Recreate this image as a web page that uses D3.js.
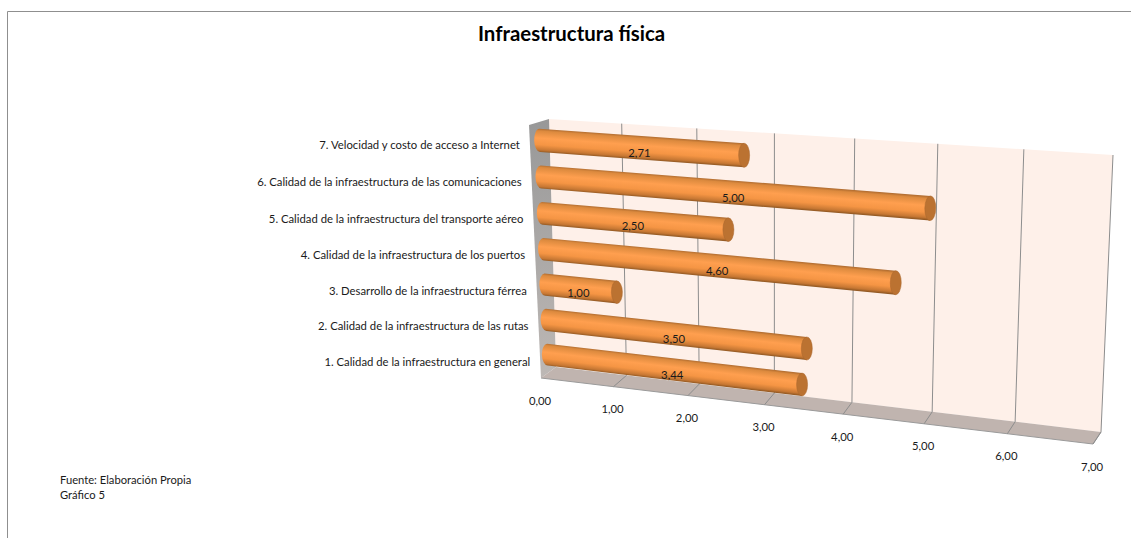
<!DOCTYPE html>
<html>
<head>
<meta charset="utf-8">
<script src="https://cdn.jsdelivr.net/npm/d3@7"></script>
<style>
	html, body { margin: 0; padding: 0; background: #fff; }
	svg { display: block; }
	text { font-family: Lato, "Open Sans", sans-serif; fill: #1a1a1a; }
</style>
</head>
<body>
<script>
const categories = [
	'1. Calidad de la infraestructura en general',
	'2. Calidad de la infraestructura de las rutas',
	'3. Desarrollo de la infraestructura férrea',
	'4. Calidad de la infraestructura de los puertos',
	'5. Calidad de la infraestructura del transporte aéreo',
	'6. Calidad de la infraestructura de las comunicaciones',
	'7. Velocidad y costo de acceso a Internet'
];
const values = [3.44, 3.50, 1.00, 4.60, 2.50, 5.00, 2.71];
const axisTicks = [0, 1, 2, 3, 4, 5, 6, 7];
const titleText = 'Infraestructura física';
const footnotes = ['Fuente: Elaboración Propia', 'Gráfico 5'];

const width = 1131;
const height = 538;

const svg = d3.select('body')
	.append('svg')
	.attr('width', width)
	.attr('height', height);

// unit square -> quad (a: 0,0  b: 1,0  c: 1,1  d: 0,1)
function homography(a, b, c, d) {
	const dx1 = b[0] - c[0], dx2 = d[0] - c[0], sx = a[0] - b[0] + c[0] - d[0];
	const dy1 = b[1] - c[1], dy2 = d[1] - c[1], sy = a[1] - b[1] + c[1] - d[1];
	const den = dx1 * dy2 - dx2 * dy1;
	const g = (sx * dy2 - dx2 * sy) / den;
	const h = (dx1 * sy - sx * dy1) / den;
	return (u, v) => {
		const w = g * u + h * v + 1;
		return [
			((b[0] - a[0] + g * b[0]) * u + (d[0] - a[0] + h * d[0]) * v + a[0]) / w,
			((b[1] - a[1] + g * b[1]) * u + (d[1] - a[1] + h * d[1]) * v + a[1]) / w
		];
	};
}

// the three planes of the 3d box: back wall, bars and front edge
const backPlane = homography([556, 367], [1101, 432], [1113, 155], [549, 119]);
const barPlane = homography([548, 372], [1095, 438], [1107, 161], [539, 122]);
const frontPlane = homography([541, 378], [1093, 444], [1105, 167], [529, 125]);

const xScale = d3.scaleLinear().domain([0, 7]).range([0, 1]);
const yScale = d3.scaleBand().domain(categories).range([0, 1]).paddingInner(0.37).paddingOuter(0.185);

const poly = pts => 'M' + pts.map(p => p.join(',')).join('L') + 'Z';
const fmt = d3.format('.2f');
const comma = v => fmt(v).replace('.', ',');

// frame
svg.append('path')
	.attr('d', `M7.5,${height}V11.5H${width}`)
	.attr('fill', 'none')
	.attr('stroke', '#8f8f8f')
	.attr('stroke-width', 1);

svg.append('text')
	.attr('x', 571.5)
	.attr('y', 41)
	.style('text-anchor', 'middle')
	.style('font-size', '20.4px')
	.style('font-weight', 700)
	.style('fill', '#000')
	.text(titleText);

const defs = svg.append('defs');
const chart = svg.append('g').attr('class', 'chart');

// walls
const wallGrad = defs.append('linearGradient')
	.attr('id', 'wall-side')
	.attr('x1', 0).attr('y1', 0).attr('x2', 0).attr('y2', 1);
wallGrad.append('stop').attr('offset', 0).attr('stop-color', '#989898');
wallGrad.append('stop').attr('offset', 1).attr('stop-color', '#bdb8b5');

chart.append('path')
	.attr('d', poly([backPlane(0, 0), backPlane(1, 0), backPlane(1, 1), backPlane(0, 1)]))
	.attr('fill', '#fef0e9');

chart.append('path')
	.attr('d', poly([frontPlane(0, 0), backPlane(0, 0), backPlane(0, 1), frontPlane(0, 1)]))
	.attr('fill', 'url(#wall-side)');

chart.append('path')
	.attr('d', poly([frontPlane(0, 0), frontPlane(1, 0), backPlane(1, 0), backPlane(0, 0)]))
	.attr('fill', '#c0b4af');

chart.append('path')
	.attr('d', `M${frontPlane(0, 0)}L${frontPlane(1, 0)}L${backPlane(1, 0)}`)
	.attr('fill', 'none')
	.attr('stroke', '#9a9a9a')
	.attr('stroke-width', 1);

// gridlines
chart.selectAll('.grid')
	.data(axisTicks.slice(1))
	.enter().append('path')
	.attr('class', 'grid')
	.attr('d', d => `M${frontPlane(xScale(d), 0)}L${backPlane(xScale(d), 0)}L${backPlane(xScale(d), 1)}`)
	.attr('fill', 'none')
	.attr('stroke', '#8d8d8d')
	.attr('stroke-width', 1);

// x tick labels
chart.selectAll('.tick-label')
	.data(axisTicks)
	.enter().append('text')
	.attr('class', 'tick-label')
	.attr('x', d => frontPlane(xScale(d), 0)[0] - 1)
	.attr('y', d => frontPlane(xScale(d), 0)[1] + 26.5)
	.style('text-anchor', 'middle')
	.style('font-size', '11.3px')
	.text(comma);

// category labels
chart.selectAll('.cat-label')
	.data(categories)
	.enter().append('text')
	.attr('class', 'cat-label')
	.attr('x', d => frontPlane(0, yScale(d) + yScale.bandwidth() / 2)[0] - 10)
	.attr('y', d => frontPlane(0, yScale(d) + yScale.bandwidth() / 2)[1] + 5)
	.style('text-anchor', 'end')
	.style('font-size', '11.3px')
	.text(d => d);

// cylinders, drawn from the back (top) row down
const rows = categories.map((c, i) => {
	const v0 = yScale(c), v1 = v0 + yScale.bandwidth(), u = xScale(values[i]);
	return {
		i, value: values[i],
		lb: barPlane(0, v0), rb: barPlane(u, v0),
		rt: barPlane(u, v1), lt: barPlane(0, v1)
	};
}).reverse();

const mid = (a, b) => [(a[0] + b[0]) / 2, (a[1] + b[1]) / 2];

const bars = chart.selectAll('.bar')
	.data(rows)
	.enter().append('g')
	.attr('class', 'bar');

bars.each(function(d) {
	const g = d3.select(this);
	const leftMid = mid(d.lt, d.lb), rightMid = mid(d.rt, d.rb);

	const rL = Math.hypot(d.lt[0] - d.lb[0], d.lt[1] - d.lb[1]) / 2;
	const rR = Math.hypot(d.rt[0] - d.rb[0], d.rt[1] - d.rb[1]) / 2;
	const angL = Math.atan2(d.lt[1] - d.lb[1], d.lt[0] - d.lb[0]) * 180 / Math.PI;
	const angR = Math.atan2(d.rt[1] - d.rb[1], d.rt[0] - d.rb[0]) * 180 / Math.PI;
	const capW = 5.5;

	// shading runs across the cylinder, square to its axis
	const len = Math.hypot(rightMid[0] - leftMid[0], rightMid[1] - leftMid[1]);
	const nx = -(rightMid[1] - leftMid[1]) / len, ny = (rightMid[0] - leftMid[0]) / len;
	const r = (rL + rR) / 2;
	const centre = mid(leftMid, rightMid);
	const grad = defs.append('linearGradient')
		.attr('id', 'cyl-' + d.i)
		.attr('gradientUnits', 'userSpaceOnUse')
		.attr('x1', centre[0] - nx * r).attr('y1', centre[1] - ny * r)
		.attr('x2', centre[0] + nx * r).attr('y2', centre[1] + ny * r);
	[[0, '#b06c30'], [0.1, '#dc8a3e'], [0.4, '#ff9f4f'], [0.68, '#f59544'], [0.9, '#c67733'], [1, '#8f5722']]
		.forEach(s => grad.append('stop').attr('offset', s[0]).attr('stop-color', s[1]));

	g.append('path')
		.attr('d', `M${d.lt}L${d.rt}L${d.rb}L${d.lb}A${rL},${capW} ${angL} 0 1 ${d.lt}Z`)
		.attr('fill', `url(#cyl-${d.i})`);

	g.append('ellipse')
		.attr('transform', `translate(${rightMid}) rotate(${angR})`)
		.attr('rx', rR)
		.attr('ry', capW)
		.attr('fill', '#bb7231')
		.attr('stroke', '#a9672e')
		.attr('stroke-width', 0.5);

	g.append('text')
		.attr('x', (leftMid[0] + rightMid[0]) / 2 - 2.5)
		.attr('y', (leftMid[1] + rightMid[1]) / 2 + 9)
		.style('text-anchor', 'middle')
		.style('font-size', '11.3px')
		.text(comma(d.value));
});

svg.selectAll('.foot')
	.data(footnotes)
	.enter().append('text')
	.attr('class', 'foot')
	.attr('x', 60)
	.attr('y', (d, i) => 484 + i * 15)
	.style('font-size', '11.2px')
	.text(d => d);
</script>
</body>
</html>
